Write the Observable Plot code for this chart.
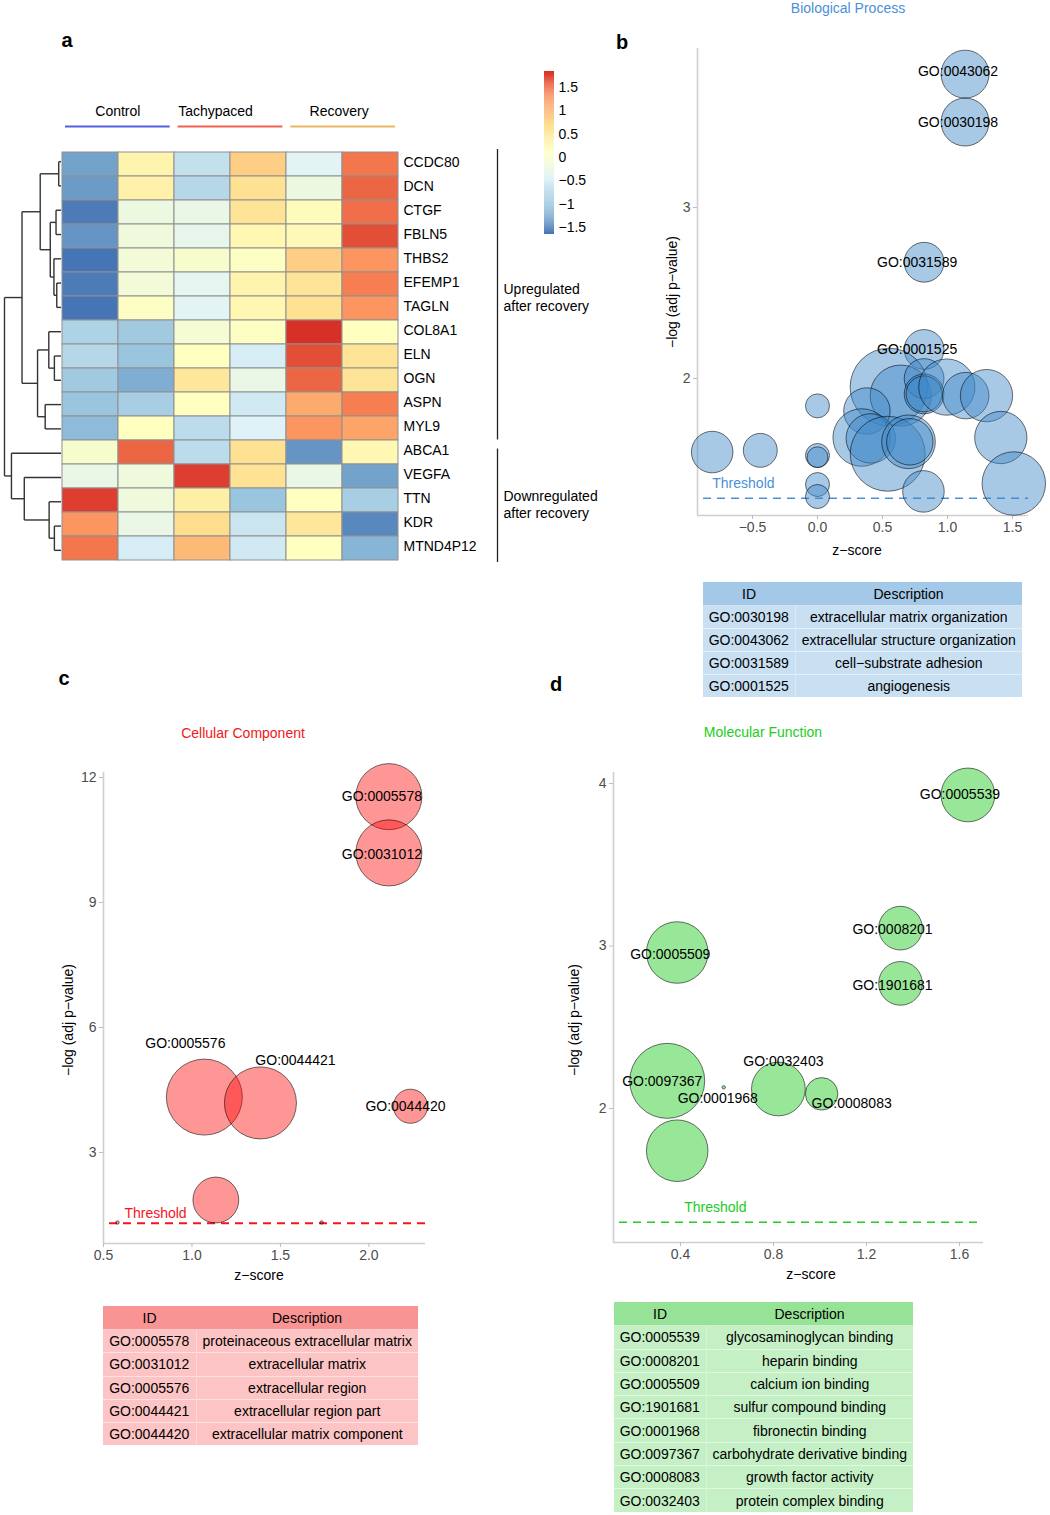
<!DOCTYPE html>
<html><head><meta charset="utf-8">
<script src="https://cdn.jsdelivr.net/npm/d3@7"></script>
<script src="https://cdn.jsdelivr.net/npm/@observablehq/plot@0.6"></script>
<style>
body{margin:0;background:#fff;font-family:"Liberation Sans",Arial,sans-serif;}
#root{position:relative;width:1050px;height:1515px;overflow:hidden;background:#fff;}
.lbl{position:absolute;transform:translate(-50%,-50%);white-space:nowrap;font-size:14px;line-height:1;}
.rot{transform:translate(-50%,-50%) rotate(-90deg);}
table.go{position:absolute;border-collapse:collapse;font-size:14px;table-layout:fixed;font-family:"Liberation Sans",Arial,sans-serif;}
table.go td{padding:0;text-align:center;font-weight:normal;line-height:1;}
svg{overflow:visible;}
</style></head><body><div id="root"></div>
<script>
// ---------------- DATA ----------------
// Panel a: heatmap (row z-scores)
const genes = ["CCDC80","DCN","CTGF","FBLN5","THBS2","EFEMP1","TAGLN","COL8A1","ELN","OGN","ASPN","MYL9","ABCA1","VEGFA","TTN","KDR","MTND4P12"];
const samples = ["C1","C2","T1","T2","R1","R2"];
const expr = [
  [-1.30, 0.30,-0.70, 0.80,-0.45, 1.40],
  [-1.35, 0.35,-0.80, 0.65,-0.25, 1.50],
  [-1.60,-0.25,-0.30, 0.60, 0.15, 1.45],
  [-1.40,-0.20,-0.35, 0.25, 0.20, 1.65],
  [-1.65,-0.15,-0.05, 0.05, 0.80, 1.20],
  [-1.60,-0.15,-0.40, 0.30, 0.60, 1.35],
  [-1.65, 0.05,-0.45, 0.25, 0.65, 1.20],
  [-0.85,-0.95,-0.10, 0.05, 1.84, 0.10],
  [-0.80,-1.00, 0.10,-0.55, 1.65, 0.60],
  [-0.95,-1.20, 0.55,-0.30, 1.50, 0.60],
  [-1.00,-0.90, 0.10,-0.60, 1.05, 1.35],
  [-1.10, 0.10,-0.75,-0.50, 1.20, 1.10],
  [-0.05, 1.50,-0.75, 0.65,-1.40, 0.25],
  [-0.30,-0.20, 1.75, 0.62,-0.30,-1.30],
  [ 1.75,-0.20, 0.40,-1.00, 0.10,-0.90],
  [ 1.20,-0.30, 0.70,-0.65, 0.55,-1.50],
  [ 1.40,-0.55, 0.95,-0.60, 0.10,-1.15]
];
const legendTicks = [-1.5,-1,-0.5,0,0.5,1,1.5];
const colorStops = ["#4575b4","#91bfdb","#e0f3f8","#ffffbf","#fee090","#fc8d59","#d73027"];
const valueMin = -1.65, valueMax = 1.84;
// hierarchical clustering merges: [left, right, height]; numbers refer to earlier merges
const dendroMerges = [
  ["CCDC80","DCN",0.04],
  ["CTGF","FBLN5",0.088],
  ["EFEMP1","TAGLN",0.075],
  ["THBS2",2,0.125],
  [1,3,0.19],
  [0,4,0.368],
  ["ELN","OGN",0.117],
  ["COL8A1",6,0.216],
  ["ASPN","MYL9",0.28],
  [7,8,0.415],
  [5,9,0.69],
  ["KDR","MTND4P12",0.117],
  ["TTN",11,0.21],
  ["VEGFA",12,0.65],
  ["ABCA1",13,0.877],
  [10,14,1.0]
];
const groupNames = ["Control","Tachypaced","Recovery"];
const groupStart = [0,2,4];
const groupEnd = [2,4,6];
const groupColors = ["#5060e0","#f36152","#ebb862"];
const sectionNames = ["Upregulated\nafter recovery","Downregulated\nafter recovery"];
const sectionFrom = [0,12];
const sectionTo = [12,17];

// Panel b: Biological Process
const bpIds = ["","","","","","","","GO:0043062","GO:0030198","GO:0031589","GO:0001525","","","","","","","","","","","","","","","","",""];
const bpZ = [-0.81,-0.44,0.0,0.0,0.0,0.0,0.0,1.135,1.135,0.82,0.82,0.55,0.64,0.38,0.82,0.82,0.82,0.995,1.14,1.30,0.34,0.41,0.54,0.70,0.71,1.41,1.51,0.815];
const bpP = [1.57,1.58,1.84,1.55,1.54,1.38,1.31,3.78,3.50,2.68,2.17,1.95,1.90,1.81,2.00,1.91,1.91,1.95,1.90,1.90,1.655,1.65,1.56,1.63,1.63,1.655,1.386,1.34];
const bpCount = [12,8,4,4,3,4,4,16,16,11,11,42,26,15,11,11,9,22,15,19,23,17,39,20,15,19,28,12];
const bpTableId = ["GO:0030198","GO:0043062","GO:0031589","GO:0001525"];
const bpTableDesc = ["extracellular matrix organization","extracellular structure organization","cell\u2212substrate adhesion","angiogenesis"];

// Panel c: Cellular Component
const ccIds = ["GO:0005578","GO:0031012","GO:0005576","GO:0044421","GO:0044420","","",""];
const ccZ = [2.113,2.113,1.07,1.387,2.235,1.135,0.579,1.733];
const ccP = [11.54,10.19,4.33,4.19,4.11,1.86,1.32,1.32];
const ccCount = [58,58,75,68,18,30,1,1];
const ccTableId = ["GO:0005578","GO:0031012","GO:0005576","GO:0044421","GO:0044420"];
const ccTableDesc = ["proteinaceous extracellular matrix","extracellular matrix","extracellular region","extracellular region part","extracellular matrix component"];

// Panel d: Molecular Function
const mfIds = ["GO:0005539","GO:0008201","GO:1901681","GO:0005509","GO:0097367","","GO:0001968","GO:0032403","GO:0008083"];
const mfZ = [1.636,1.346,1.346,0.386,0.343,0.386,0.586,0.821,1.007];
const mfP = [3.93,3.11,2.77,2.96,2.17,1.74,2.13,2.12,2.09];
const mfCount = [33,23,23,42,60,42,1,33,14];
const mfTableId = ["GO:0005539","GO:0008201","GO:0005509","GO:1901681","GO:0001968","GO:0097367","GO:0008083","GO:0032403"];
const mfTableDesc = ["glycosaminoglycan binding","heparin binding","calcium ion binding","sulfur compound binding","fibronectin binding","carbohydrate derivative binding","growth factor activity","protein complex binding"];

const threshold = 1.3;

// ---------------- LAYOUT ----------------
const root = document.getElementById("root");
const FONT = "Liberation Sans, Arial, sans-serif";
function put(node, left, top){ node.style.position="absolute"; node.style.left=left+"px"; node.style.top=top+"px"; root.appendChild(node); return node; }
function label(text, x, y, o={}){
  const d=document.createElement("div"); d.className="lbl"+(o.rot?" rot":"");
  d.textContent=text; d.style.left=x+"px"; d.style.top=y+"px";
  if(o.color) d.style.color=o.color; if(o.size) d.style.fontSize=o.size+"px"; if(o.bold) d.style.fontWeight="bold";
  root.appendChild(d);
}
const baseStyle = {fontFamily: FONT, fontSize: "14px", background: "transparent", overflow: "visible"};

// ---- Panel a ----
const heat = [];
genes.forEach((g,i)=>samples.forEach((s,j)=>heat.push({gene:g, sample:s, value:expr[i][j]})));
const colorScale = {type:"linear", domain: colorStops.map((_,i)=>valueMin+(valueMax-valueMin)*i/(colorStops.length-1)), range: colorStops, interpolate:"rgb"};

put(Plot.plot({
  width: 440, height: 413, marginLeft: 0, marginTop: 0, marginBottom: 0, marginRight: 102,
  style: baseStyle,
  x: {domain: samples, padding: 0, axis: null},
  y: {domain: genes, padding: 0},
  color: colorScale,
  marks: [
    Plot.cell(heat, {x:"sample", y:"gene", fill:"value", stroke:"#909090", strokeWidth:1, inset:0}),
    Plot.axisY({anchor:"right", tickSize:0, tickPadding:4, label:null, fill:"#000", dy:-1.5})
  ]
}), 61, 149);

// dendrogram
const dnodes = [];
const segs = [];
const getNode = ref => typeof ref === "string" ? {h:0, y: genes.indexOf(ref)+0.5} : dnodes[ref];
dendroMerges.forEach(([a,b,h])=>{
  const A=getNode(a), B=getNode(b);
  segs.push({x1:A.h, y1:A.y, x2:h, y2:A.y});
  segs.push({x1:B.h, y1:B.y, x2:h, y2:B.y});
  segs.push({x1:h, y1:A.y, x2:h, y2:B.y});
  dnodes.push({h, y:(A.y+B.y)/2});
});
put(Plot.plot({
  width: 62, height: 413, margin: 0, style: baseStyle,
  x: {domain:[1,0], range:[4,60.5], axis:null},
  y: {domain:[0,genes.length], range:[0,413], axis:null},
  marks: [Plot.link(segs, {x1:"x1", y1:"y1", x2:"x2", y2:"y2", stroke:"#333", strokeWidth:1.4})]
}), 0, 149);

// group header
const groups = groupNames.map((n,i)=>({name:n, start:groupStart[i], end:groupEnd[i], color:groupColors[i]}));
const groupNudge = [0,-15,-4];
put(Plot.plot({
  width: 338, height: 40, margin: 0, style: baseStyle,
  x: {domain:[0,samples.length], range:[0,338], axis:null},
  y: {domain:[0,1], range:[31,16], axis:null},
  marks: [
    Plot.ruleY(groups, {x1:"start", x2:"end", y:()=>0, stroke:d=>d.color, strokeWidth:2, insetLeft:4, insetRight:4}),
    ...groups.map((g,i)=>Plot.text([g], {x:d=>(d.start+d.end)/2, y:()=>1, text:"name", fill:"#000", dx:groupNudge[i]}))
  ]
}), 61, 95);

// row section brackets
const sections = sectionNames.map((n,i)=>({name:n, from:sectionFrom[i], to:sectionTo[i]}));
const sectionInsets = [[0,1],[8,0]];
put(Plot.plot({
  width: 130, height: 413, margin: 0, style: baseStyle,
  x: {domain:[0,1], range:[7,130], axis:null},
  y: {domain:[0,genes.length], range:[0,413], axis:null},
  marks: [
    ...sections.map((s,i)=>Plot.ruleX([s], {x:()=>0, y1:"from", y2:"to", stroke:"#222", strokeWidth:1.3, insetTop:sectionInsets[i][0], insetBottom:sectionInsets[i][1]})),
    Plot.text(sections, {x:()=>0, y:d=>(d.from+d.to)/2, text:"name", textAnchor:"start", dx:6, dy:2, lineHeight:1.2, fill:"#000"})
  ]
}), 490, 149);

// color legend
const nStops = 160;
const legendStops = d3.range(nStops).map(i=>valueMin+(valueMax-valueMin)*i/nStops);
const stepV = (valueMax-valueMin)/nStops;
put(Plot.plot({
  width: 80, height: 190, marginLeft: 14, marginRight: 56, marginTop: 11, marginBottom: 16,
  style: baseStyle,
  x: {domain:[0,1], axis:null},
  y: {domain:[valueMin, valueMax]},
  color: colorScale,
  marks: [
    Plot.rect(legendStops, {x1:()=>0, x2:()=>1, y1:d=>d, y2:d=>d+stepV*1.05, fill:d=>d}),
    Plot.axisY({anchor:"right", ticks: legendTicks, tickFormat: d3.format(""), tickSize:0, tickPadding:4, label:null, fill:"#000"})
  ]
}), 530, 60);

// ---- bubble charts ----
function bubble(cfg){
  const data = cfg.ids.map((id,i)=>({id, x:cfg.x[i], y:cfg.y[i], count:cfg.count[i]}));
  const labelled = data.filter(d=>d.id);
  return Plot.plot({
    width: cfg.width, height: cfg.height,
    marginLeft: cfg.m[0], marginRight: cfg.m[1], marginTop: cfg.m[2], marginBottom: cfg.m[3],
    style: baseStyle,
    x: {domain: cfg.xDomain},
    y: {domain: cfg.yDomain},
    r: {type:"sqrt", domain: cfg.rDomain, range: cfg.rRange},
    marks: [
      Plot.ruleX([cfg.xDomain[0]], {stroke:"#cfcfcf", strokeWidth:1.6}),
      Plot.ruleY([cfg.yDomain[0]], {stroke:"#cfcfcf", strokeWidth:1.6}),
      Plot.axisX({ticks: cfg.xTicks, tickFormat: d3.format(".1f"), tickSize:4, tickPadding:3, stroke:"#bdbdbd", fill:"#4d4d4d", label:null}),
      Plot.axisY({ticks: cfg.yTicks, tickFormat: d3.format("d"), tickSize:4, tickPadding:3, stroke:"#bdbdbd", fill:"#4d4d4d", label:null}),
      Plot.ruleY([threshold], {stroke: cfg.line, strokeWidth:cfg.lineWidth, strokeDasharray:"8,6", insetLeft:6}),
      Plot.text([threshold], {x:()=>cfg.thrX, y:d=>d, text:()=>"Threshold", dy:cfg.thrDy, fill:cfg.line}),
      Plot.dot(data, {x:"x", y:"y", r:"count", fill:cfg.fill, fillOpacity:cfg.opacity, stroke:"#000", strokeOpacity:0.55, strokeWidth:1, sort:null}),
      ...labelled.map(d=>Plot.text([d], {x:"x", y:"y", text:"id", fill:"#000", dx:cfg.nudge[d.id][0], dy:cfg.nudge[d.id][1]}))
    ]
  });
}

// b
put(bubble({
  ids: bpIds, x: bpZ, y: bpP, count: bpCount,
  width: 410, height: 530, m: [57, 22, 18, 45],
  xDomain: [-0.923, 1.623], yDomain: [1.199, 3.93],
  xTicks: [-0.5,0,0.5,1,1.5], yTicks: [2,3],
  rDomain: [0,50], rRange: [0, 6*Math.sqrt(50)],
  fill: "#3f88c8", opacity: 0.45, line: "#4a90d9", lineWidth: 1.5,
  thrX: -0.57, thrDy: -15,
  nudge: {"GO:0043062":[-7,-3], "GO:0030198":[-7,0], "GO:0031589":[-7,0], "GO:0001525":[-7,0]}
}), 640, 30);

// c
put(bubble({
  ids: ccIds, x: ccZ, y: ccP, count: ccCount,
  width: 400, height: 560, m: [63, 15, 32, 57],
  xDomain: [0.5, 2.32], yDomain: [0.816, 12.12],
  xTicks: [0.5,1,1.5,2], yTicks: [3,6,9,12],
  rDomain: [1,75], rRange: [1.7,38],
  fill: "#ff0000", opacity: 0.41, line: "#f5141e", lineWidth: 2,
  thrX: 0.794, thrDy: -10,
  nudge: {"GO:0005578":[-7,0], "GO:0031012":[-7,2], "GO:0005576":[-19,-54], "GO:0044421":[35,-42], "GO:0044420":[-5,0]}
}), 40, 740);

// d
put(bubble({
  ids: mfIds, x: mfZ, y: mfP, count: mfCount,
  width: 450, height: 560, m: [63, 17, 32, 58],
  xDomain: [0.112, 1.703], yDomain: [1.175, 4.068],
  xTicks: [0.4,0.8,1.2,1.6], yTicks: [2,3,4],
  rDomain: [1,60], rRange: [1.7,37.5],
  fill: "#32cd32", opacity: 0.5, line: "#22cc22", lineWidth: 1.5,
  thrX: 0.55, thrDy: -15,
  nudge: {"GO:0005539":[-8,0], "GO:0008201":[-8,1], "GO:1901681":[-8,2], "GO:0005509":[-7,2], "GO:0097367":[-5,1], "GO:0001968":[-6,11], "GO:0032403":[5,-27], "GO:0008083":[30,10]}
}), 550, 740);

// titles, axis titles, panel letters
label("Biological Process", 848, 8, {color:"#4a90d9"});
label("Cellular Component", 243, 733, {color:"#f01818"});
label("Molecular Function", 763, 732, {color:"#22cc22"});
label("z\u2212score", 857, 550);
label("z\u2212score", 259, 1275);
label("z\u2212score", 811, 1274);
label("\u2212log (adj p\u2212value)", 672, 292, {rot:true});
label("\u2212log (adj p\u2212value)", 68, 1020, {rot:true});
label("\u2212log (adj p\u2212value)", 574, 1020, {rot:true});
label("a", 67, 40, {size:20, bold:true});
label("b", 622, 42, {size:20, bold:true});
label("c", 64, 678, {size:20, bold:true});
label("d", 556, 684, {size:20, bold:true});

// tables
function goTable(ids, descs, left, top, width, idW, headBg, bodyBg, rowH){
  const t=document.createElement("table"); t.className="go";
  t.style.left=left+"px"; t.style.top=top+"px"; t.style.width=width+"px";
  const cg=document.createElement("colgroup");
  [idW, width-idW].forEach(w=>{const c=document.createElement("col"); c.style.width=w+"px"; cg.appendChild(c);});
  t.appendChild(cg);
  const h=t.insertRow();
  ["ID","Description"].forEach(v=>{const c=h.insertCell(); c.textContent=v; c.style.background=headBg; c.style.height=rowH+"px";});
  ids.forEach((id,i)=>{
    const r=t.insertRow();
    [id, descs[i]].forEach((v,j)=>{const c=r.insertCell(); c.textContent=v; c.style.background=bodyBg; c.style.height=(rowH-1)+"px"; c.style.borderTop="1px solid rgba(255,255,255,0.5)"; if(j===1) c.style.borderLeft="1px solid rgba(255,255,255,0.35)";});
  });
  root.appendChild(t);
}
goTable(bpTableId, bpTableDesc, 703, 582, 319, 92, "#a4c8e8", "#c9dff2", 23);
goTable(ccTableId, ccTableDesc, 103, 1306, 315, 93, "#f99494", "#fcc4c4", 23.2);
goTable(mfTableId, mfTableDesc, 614, 1302, 299, 92, "#96e296", "#c5f0c5", 23.3);
</script></body></html>
